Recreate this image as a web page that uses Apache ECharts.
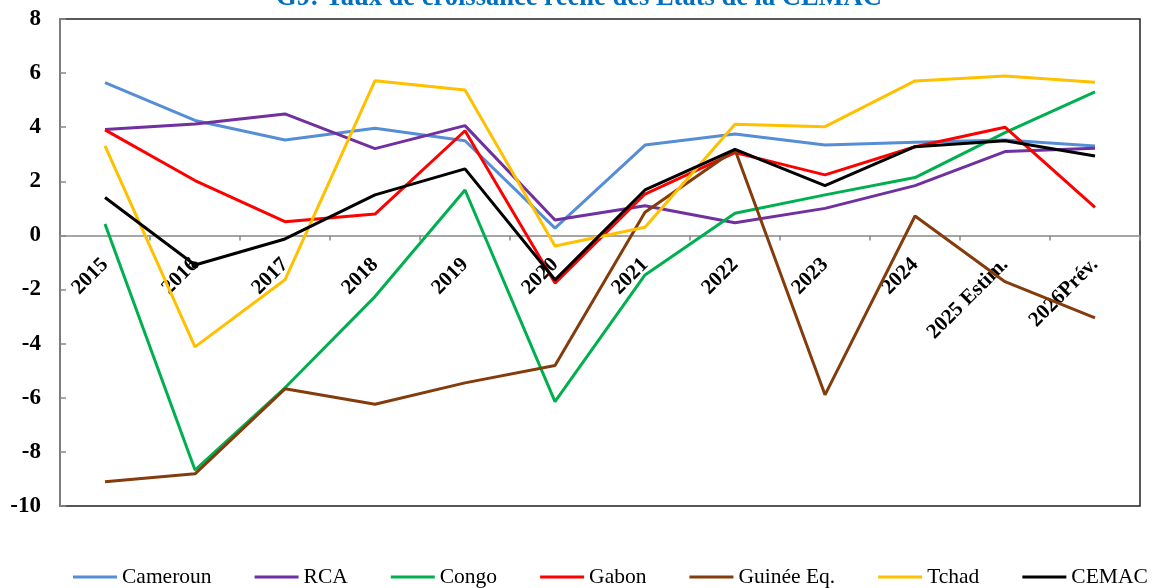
<!DOCTYPE html>
<html>
<head>
<meta charset="utf-8">
<script src="https://cdn.jsdelivr.net/npm/echarts@6/dist/echarts.min.js"></script>
<style>
html,body{margin:0;padding:0;background:#fff;}
#chart{width:1158px;height:588px;}
</style>
</head>
<body>
<div id="chart"></div>
<script>
const categories = ['2015','2016','2017','2018','2019','2020','2021','2022','2023','2024','2025 Estim.','2026Prév.'];
const cameroun = [5.65, 4.25, 3.53, 3.96, 3.5, 0.27, 3.34, 3.75, 3.34, 3.44, 3.53, 3.31];
const rca      = [3.92, 4.12, 4.49, 3.21, 4.06, 0.57, 1.10, 0.47, 1.0, 1.84, 3.1, 3.22];
const congo    = [0.42, -8.67, -5.63, -2.26, 1.68, -6.14, -1.46, 0.82, 1.5, 2.14, 3.8, 5.31];
const gabon    = [3.9, 2.03, 0.51, 0.79, 3.87, -1.76, 1.53, 3.06, 2.24, 3.28, 4.0, 1.04];
const guinee   = [-9.1, -8.81, -5.67, -6.24, -5.45, -4.81, 0.86, 3.17, -5.89, 0.72, -1.71, -3.05];
const tchad    = [3.31, -4.12, -1.64, 5.72, 5.38, -0.39, 0.30, 4.11, 4.02, 5.71, 5.89, 5.66];
const cemac    = [1.40, -1.09, -0.13, 1.50, 2.46, -1.64, 1.68, 3.18, 1.84, 3.28, 3.5, 2.94];
const cemacMarkerIndex = 1;
const seriesNames = ['Cameroun','RCA','Congo','Gabon','Guinée Eq.','Tchad','CEMAC'];
const seriesData = [cameroun, rca, congo, gabon, guinee, tchad, cemac];
const colors = ['#558ED5','#7030A0','#00B050','#FF0000','#843C0C','#FFC000','#000000'];
const yMin = -10, yMax = 8, yInterval = 2;

const serif = '"Liberation Serif", "Times New Roman", serif';
const gridTop = 19, gridBottom = 82, H = 588;
const plotH = H - gridTop - gridBottom;
const zeroOffset = -(plotH * (0 - yMin) / (yMax - yMin));

const chart = echarts.init(document.getElementById('chart'), null, {renderer: 'canvas'});
chart.setOption({
  animation: false,
  backgroundColor: '#ffffff',
  title: {
    text: 'G9: Taux de croissance réelle des Etats de la CEMAC',
    left: 'center',
    top: -20,
    textStyle: {color: '#0070C0', fontFamily: serif, fontWeight: 'bold', fontSize: 26.5}
  },
  legend: {
    data: seriesNames,
    left: 68,
    top: 561,
    width: 1090,
    icon: 'rect',
    itemWidth: 44,
    itemHeight: 3,
    itemGap: 43,
    textStyle: {fontFamily: serif, fontSize: 21.5, color: '#000'}
  },
  grid: {
    left: 60, right: 18, top: gridTop, bottom: gridBottom,
    show: true, borderColor: '#222', borderWidth: 1.5, backgroundColor: 'transparent'
  },
  xAxis: {
    type: 'category',
    data: categories,
    boundaryGap: true,
    offset: zeroOffset,
    axisLine: {onZero: false, lineStyle: {color: '#888', width: 1.5}},
    axisTick: {show: true, alignWithLabel: false, length: 5, lineStyle: {color: '#888', width: 1.5}},
    axisLabel: {interval: 0, rotate: 45, fontFamily: serif, fontWeight: 'bold', fontSize: 21, color: '#000', margin: 26}
  },
  yAxis: {
    type: 'value',
    min: yMin, max: yMax, interval: yInterval,
    splitLine: {show: false},
    axisLine: {show: true, lineStyle: {color: '#888', width: 1.5}},
    axisTick: {show: true, inside: true, length: 6, lineStyle: {color: '#888', width: 1.5}},
    axisLabel: {fontFamily: serif, fontWeight: 'bold', fontSize: 23, color: '#000', margin: 19}
  },
  series: seriesNames.map((n, i) => ({
    name: n,
    type: 'line',
    data: seriesData[i].map((v, k) => (i === 6 && k === cemacMarkerIndex)
      ? {value: v, symbol: 'circle', symbolSize: 7, itemStyle: {color: colors[i]}}
      : v),
    color: colors[i],
    showSymbol: true,
    symbol: 'none',
    lineStyle: {width: 3, color: colors[i]},
    z: 10 + i
  }))
});
</script>
</body>
</html>
